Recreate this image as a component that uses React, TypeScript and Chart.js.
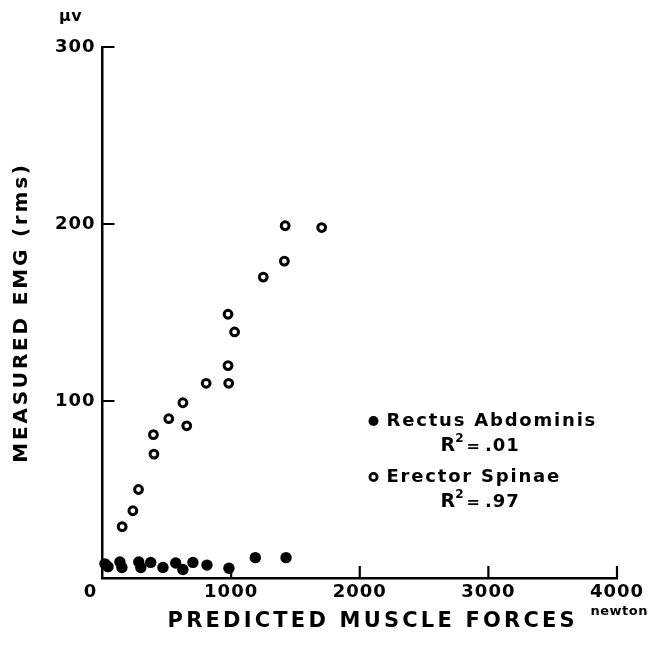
import React, { useEffect, useRef } from 'react';
import { Chart, registerables, LinearScale } from 'chart.js';

const FONT = '"DejaVu Sans", sans-serif';

// ---- data ----
const X_TICKS = [0, 1000, 2000, 3000, 4000];
const Y_TICKS = [100, 200, 300];
const X_TITLE = 'PREDICTED MUSCLE FORCES';
const Y_TITLE = 'MEASURED EMG (rms)';
const X_UNIT = 'newton';
const Y_UNIT = 'µv';

const SERIES_NAMES = ['Rectus Abdominis', 'Erector Spinae'];
const SERIES_R2 = ['.01', '.97'];

const rectusX = [19, 43, 135, 151, 282, 298, 375, 470, 569, 625, 703, 812, 983, 1188, 1427];
const rectusY = [8, 6.4, 9, 5.9, 9, 5.9, 8.8, 5.9, 8.5, 4.8, 8.8, 7.3, 5.5, 11.5, 11.5];

const erectorX = [153, 236, 280, 400, 396, 515, 655, 625, 806, 981, 976, 1027, 976, 1250, 1414, 1420, 1704];
const erectorY = [29, 38, 50, 70, 81, 90, 86, 99, 110, 110, 120, 139, 149, 170, 179, 199, 198];

class SpacedLinearScale extends LinearScale {
  static id = 'spacedLinear';
  static defaults = (LinearScale as any).defaults;
  drawTitle() {
    const self: any = this;
    const ctx: any = self.ctx;
    const prev = ctx.letterSpacing;
    ctx.save();
    if (self.axis === 'x') {
      ctx.letterSpacing = '3.2px';
      ctx.translate(13, 0);
    } else {
      ctx.letterSpacing = '2.8px';
    }
    (LinearScale.prototype as any).drawTitle.call(this);
    ctx.restore();
    ctx.letterSpacing = prev || '0px';
  }
  _computeLabelItems(area: any) {
    const self: any = this;
    const items = (LinearScale.prototype as any)._computeLabelItems.call(this, area);
    if (self.axis === 'x' && items && items.length && items[0].options && items[0].options.translation) {
      items[0].options.translation[0] -= 12;
    }
    return items;
  }
  drawLabels(area: any) {
    const ctx: any = (this as any).ctx;
    const prev = ctx.letterSpacing;
    ctx.letterSpacing = '1px';
    (LinearScale.prototype as any).drawLabels.call(this, area);
    ctx.letterSpacing = prev || '0px';
  }
}

Chart.register(...registerables, SpacedLinearScale as any);

const innerTicks = {
  id: 'innerTicks',
  afterDatasetsDraw(chart: any) {
    const { ctx, chartArea: ca, scales } = chart;
    ctx.save();
    ctx.strokeStyle = '#000';
    ctx.lineWidth = 2.2;
    ctx.beginPath();
    for (const t of scales.x.ticks) {
      if (t.value === 0) continue;
      const px = scales.x.getPixelForValue(t.value);
      ctx.moveTo(px, ca.bottom);
      ctx.lineTo(px, ca.bottom - 12);
    }
    for (const t of scales.y.ticks) {
      const py = scales.y.getPixelForValue(t.value);
      ctx.moveTo(ca.left, py);
      ctx.lineTo(ca.left + 12, py);
    }
    ctx.stroke();
    ctx.restore();
  },
};

const legendAndUnits = {
  id: 'legendAndUnits',
  afterDraw(chart: any) {
    const { ctx, chartArea: ca } = chart;
    ctx.save();
    ctx.fillStyle = '#000';
    ctx.strokeStyle = '#000';
    ctx.textBaseline = 'middle';

    // units
    ctx.font = `bold 16px ${FONT}`;
    ctx.textAlign = 'center';
    (ctx as any).letterSpacing = '0.5px';
    ctx.fillText(Y_UNIT, ca.left - 32, ca.top - 30);
    ctx.font = `bold 13px ${FONT}`;
    ctx.textAlign = 'right';
    ctx.fillText(X_UNIT, 648, ca.bottom + 34);

    // legend
    const mx = ca.left + 271;
    const tx = ca.left + 284;
    const rows = [ca.bottom - 157, ca.bottom - 101];
    SERIES_NAMES.forEach((name, i) => {
      const y = rows[i];
      const ds = chart.data.datasets[i];
      ctx.beginPath();
      if (i === 0) {
        ctx.arc(mx, y, 5, 0, Math.PI * 2);
        ctx.fillStyle = ds.backgroundColor;
        ctx.fill();
      } else {
        ctx.arc(mx, y, 3.6, 0, Math.PI * 2);
        ctx.fillStyle = ds.backgroundColor;
        ctx.fill();
        ctx.lineWidth = 2.8;
        ctx.strokeStyle = ds.borderColor;
        ctx.stroke();
      }
      ctx.fillStyle = '#000';
      ctx.textAlign = 'left';
      (ctx as any).letterSpacing = '1.8px';
      ctx.font = `bold 18px ${FONT}`;
      ctx.fillText(name, tx, y);
      // R^2 line
      const ry = y + 25;
      let x = ca.left + 338;
      (ctx as any).letterSpacing = '0px';
      ctx.font = `bold 19px ${FONT}`;
      ctx.fillText('R', x, ry);
      x += ctx.measureText('R').width;
      ctx.font = `bold 12px ${FONT}`;
      ctx.fillText('2', x, ry - 7);
      x += ctx.measureText('2').width + 3;
      ctx.font = `bold 16px ${FONT}`;
      ctx.fillText('=', x, ry + 1);
      x += ctx.measureText('=').width + 5;
      (ctx as any).letterSpacing = '1px';
      ctx.font = `bold 18px ${FONT}`;
      ctx.fillText(SERIES_R2[i], x, ry);
    });
    ctx.restore();
  },
};

export default function App() {
  const ref = useRef<HTMLCanvasElement>(null);
  useEffect(() => {
    document.body.style.margin = '0';
    const canvas = ref.current!;
    const chart = new Chart(canvas, {
      type: 'scatter',
      data: {
        datasets: [
          {
            label: SERIES_NAMES[0],
            data: rectusX.map((x, i) => ({ x, y: rectusY[i] })),
            pointStyle: 'circle',
            pointRadius: 5.7,
            backgroundColor: '#000',
            borderColor: '#000',
            borderWidth: 0,
          },
          {
            label: SERIES_NAMES[1],
            data: erectorX.map((x, i) => ({ x, y: erectorY[i] })),
            pointStyle: 'circle',
            pointRadius: 3.9,
            backgroundColor: '#fff',
            borderColor: '#000',
            borderWidth: 3,
          },
        ],
      },
      options: {
        responsive: false,
        animation: false,
        events: [],
        clip: false as any,
        layout: { padding: { top: 47, right: 32, left: 0, bottom: 0 } },
        plugins: { legend: { display: false }, tooltip: { enabled: false } },
        scales: {
          x: {
            type: 'spacedLinear' as any,
            position: 'bottom',
            min: 0,
            max: 4000,
            afterBuildTicks: (s: any) => { s.ticks = X_TICKS.map((v) => ({ value: v })); },
            afterFit: (s: any) => { s.height = 71; },
            grid: { display: false, drawTicks: false },
            border: { display: true, color: '#000', width: 2.5 },
            ticks: {
              color: '#000',
              font: { family: FONT, size: 18, weight: 'bold' },
              padding: 4,
              maxRotation: 0,
              autoSkip: false,
              callback: (v: any) => String(v),
            },
            title: {
              display: true,
              text: X_TITLE,
              color: '#000',
              font: { family: FONT, size: 21, weight: 'bold' },
              padding: { top: 0, bottom: 15 },
            },
          },
          y: {
            type: 'spacedLinear' as any,
            position: 'left',
            min: 0,
            max: 300,
            afterBuildTicks: (s: any) => { s.ticks = Y_TICKS.map((v) => ({ value: v })); },
            afterFit: (s: any) => { s.width = 102.5; },
            grid: { display: false, drawTicks: false },
            border: { display: true, color: '#000', width: 2.5 },
            ticks: {
              color: '#000',
              font: { family: FONT, size: 18, weight: 'bold' },
              padding: 7,
              autoSkip: false,
              callback: (v: any) => String(v),
            },
            title: {
              display: true,
              text: Y_TITLE,
              color: '#000',
              font: { family: FONT, size: 20, weight: 'bold' },
              padding: { top: 10, bottom: 0 },
            },
          },
        },
      },
      plugins: [innerTicks, legendAndUnits],
    });
    return () => chart.destroy();
  }, []);
  return (
    <div style={{ width: 649, height: 649, background: '#fff' }}>
      <canvas ref={ref} width={649} height={649} style={{ display: 'block' }} />
    </div>
  );
}
